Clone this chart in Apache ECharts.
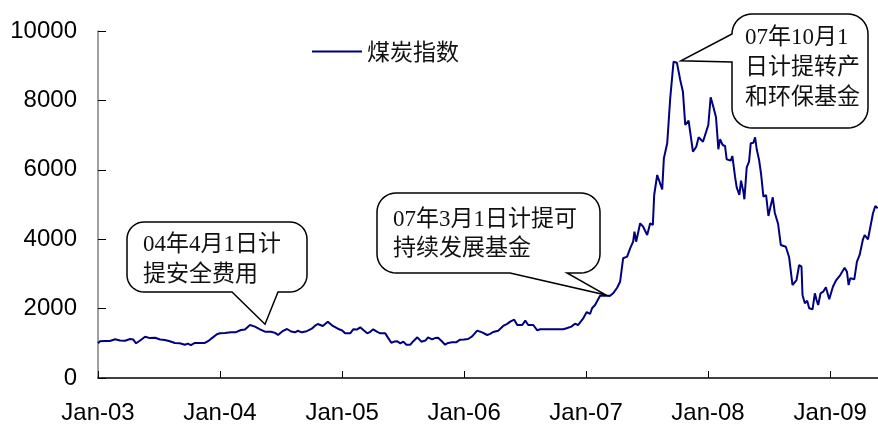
<!DOCTYPE html>
<html>
<head>
<meta charset="utf-8">
<title>煤炭指数</title>
<script src="https://cdn.jsdelivr.net/npm/echarts@6/dist/echarts.min.js"></script>
<style>
  html, body { margin: 0; padding: 0; background: #fff; }
  #main { width: 878px; height: 426px; }
</style>
</head>
<body>
<div id="main"></div>
<script>
// Weekly-ish readings of the coal sector index, Jan 2003 – May 2009
const dates = [
  '2003-01-01','2003-01-07','2003-01-22','2003-02-06','2003-02-21','2003-03-08','2003-03-23','2003-04-07','2003-04-16','2003-04-25','2003-05-07','2003-05-22','2003-06-06','2003-06-21','2003-07-06','2003-07-20','2003-08-04','2003-08-19','2003-09-03','2003-09-18','2003-09-27','2003-10-06','2003-10-18','2003-11-02','2003-11-17','2003-11-29','2003-12-11','2003-12-23',
  '2004-01-01','2004-01-16','2004-02-03','2004-02-18','2004-03-04','2004-03-16','2004-03-31','2004-04-15','2004-04-30','2004-05-15','2004-06-02','2004-06-14','2004-06-23','2004-07-08','2004-07-20','2004-08-01','2004-08-13','2004-08-21','2004-09-02','2004-09-17','2004-10-02','2004-10-11','2004-10-20','2004-11-04','2004-11-19','2004-12-04','2004-12-19',
  '2005-01-01','2005-01-10','2005-01-25','2005-02-03','2005-02-15','2005-02-24','2005-03-08','2005-03-17','2005-03-26','2005-04-04','2005-04-16','2005-04-25','2005-05-10','2005-05-19','2005-05-28','2005-06-06','2005-06-15','2005-06-24','2005-07-03','2005-07-12','2005-07-24','2005-08-02','2005-08-14','2005-08-26','2005-09-07','2005-09-15','2005-09-27','2005-10-06','2005-10-15','2005-10-27','2005-11-05','2005-11-14','2005-11-26','2005-12-08','2005-12-20',
  '2006-01-01','2006-01-13','2006-01-25','2006-02-09','2006-02-24','2006-03-11','2006-03-20','2006-03-29','2006-04-13','2006-04-28','2006-05-10','2006-05-19','2006-05-31','2006-06-09','2006-06-24','2006-07-03','2006-07-12','2006-07-27','2006-08-08','2006-08-17','2006-10-25','2006-11-06','2006-11-18','2006-11-29','2006-12-08','2006-12-23',
  '2007-01-03','2007-01-13','2007-01-19','2007-01-28','2007-02-12','2007-02-27','2007-03-14','2007-03-23','2007-04-04','2007-04-13','2007-04-22','2007-05-04','2007-05-13','2007-05-22','2007-05-26','2007-05-31','2007-06-12','2007-06-21','2007-07-03','2007-07-12','2007-07-20','2007-07-24','2007-08-02','2007-08-17','2007-08-22','2007-09-01','2007-09-10','2007-09-20','2007-09-30','2007-10-05','2007-10-10','2007-10-18','2007-10-25','2007-11-04','2007-11-17','2007-11-27','2007-12-04','2007-12-17',
  '2008-01-02','2008-01-09','2008-01-17','2008-01-25','2008-01-29','2008-02-01','2008-02-06','2008-02-14','2008-02-21','2008-02-26','2008-03-09','2008-03-14','2008-03-22','2008-03-27','2008-04-04','2008-04-09','2008-04-16','2008-04-19','2008-04-26','2008-05-03','2008-05-08','2008-05-16','2008-05-21','2008-05-26','2008-06-02','2008-06-08','2008-06-15','2008-06-23','2008-06-30','2008-07-05','2008-07-13','2008-07-19','2008-07-29','2008-08-06','2008-08-21','2008-08-31','2008-09-10','2008-09-22','2008-09-30','2008-10-07','2008-10-10','2008-10-17','2008-10-24','2008-10-30','2008-11-09','2008-11-16','2008-11-21','2008-11-26','2008-12-03','2008-12-11','2008-12-19','2008-12-29',
  '2009-01-09','2009-01-19','2009-01-31','2009-02-13','2009-02-20','2009-02-25','2009-03-02','2009-03-14','2009-03-22','2009-03-30','2009-04-09','2009-04-14','2009-04-24','2009-04-29','2009-05-09','2009-05-16','2009-05-23'
];
const coalIndex = [
  1000,1060,1066,1066,1115,1080,1075,1124,1110,1000,1080,1190,1150,1160,1110,1095,1060,1010,1000,958,990,950,1010,1010,1010,1080,1170,1260,
  1290,1300,1316,1320,1383,1400,1527,1480,1400,1335,1335,1300,1239,1360,1412,1340,1316,1360,1316,1350,1422,1500,1556,1499,1624,1500,1420,
  1370,1287,1287,1403,1400,1460,1360,1287,1330,1403,1330,1287,1287,1150,1017,1050,1056,1000,1047,960,960,1060,1172,1047,1080,1172,1115,1150,1162,1050,960,1010,1027,1027,1104,
  1110,1124,1200,1364,1316,1239,1270,1326,1364,1499,1560,1624,1681,1527,1527,1652,1527,1527,1374,1403,1403,1440,1480,1566,1527,1710,
  1899,1845,2009,2104,2370,2370,2370,2441,2600,2775,3450,3496,3738,3928,4216,3928,4458,4360,4121,4458,4409,5274,5850,5437,6331,6764,8061,9116,9087,9069,8588,8251,7291,7416,6522,6666,6937,6810,
  7291,8090,7819,7513,7003,6591,6879,6715,6686,6303,6263,6398,5802,5495,5274,5686,5369,5150,6072,6234,6764,6781,6937,6591,6283,5879,5225,5274,4669,4891,5208,4764,4438,3833,3784,3479,2680,2824,3257,3208,2392,2153,2228,2009,1980,2441,2248,2104,2441,2487,2614,2268,
  2631,2824,2968,3179,3064,2680,2873,2844,3352,3545,3997,4121,3997,3957,4746,4957,4891
];

// Axis ticks
const yearTickLabels = ['Jan-03','Jan-04','Jan-05','Jan-06','Jan-07','Jan-08','Jan-09'];
const firstYear = 2003;
const xRange = ['2003-01-01', '2009-05-24'];

// Annotated policy events
const noteTexts = [
  ['04年4月1日计', '提安全费用'],
  ['07年3月1日计提可', '持续发展基金'],
  ['07年10月1', '日计提转产', '和环保基金']
];
const noteDates = ['2004-05-15', '2007-03-02', '2007-10-12'];
const noteValues = [1550, 2390, 9140];

function toTime(s) {
  const p = s.split('-').map(Number);
  return new Date(p[0], p[1] - 1, p[2]).getTime();
}

const chart = echarts.init(document.getElementById('main'), null, { renderer: 'canvas' });
const labelFont = '"Liberation Sans", Arial, sans-serif';
const noteFont = '"Liberation Serif", "Noto Sans CJK SC", serif';

chart.setOption({
  animation: false,
  grid: { left: 98, right: 0, top: 31, bottom: 48, containLabel: false },
  legend: {
    left: 307, top: 35,
    icon: 'rect',
    itemWidth: 50, itemHeight: 2, itemGap: 10,
    data: ['煤炭指数'],
    textStyle: { fontFamily: '"Noto Sans CJK SC", sans-serif', fontSize: 23, color: '#111' }
  },
  xAxis: {
    type: 'time',
    min: toTime(xRange[0]),
    max: toTime(xRange[1]),
    splitNumber: 7,
    minInterval: 365 * 86400000,
    maxInterval: 366 * 86400000,
    axisLine: { lineStyle: { color: '#000', width: 1.5 } },
    axisTick: { inside: true, length: 7, lineStyle: { color: '#000', width: 1 } },
    splitLine: { show: false },
    axisLabel: {
      margin: 23,
      color: '#000',
      fontFamily: labelFont,
      fontSize: 24,
      showMaxLabel: false,
      hideOverlap: false,
      formatter: function (v) {
        const d = new Date(v);
        return yearTickLabels[d.getFullYear() - firstYear] || '';
      }
    }
  },
  yAxis: {
    type: 'value',
    min: 0, max: 10000, interval: 2000,
    axisLine: { show: true, lineStyle: { color: '#808080', width: 1.5 } },
    axisTick: { show: true, inside: true, length: 8, lineStyle: { color: '#000', width: 1 } },
    splitLine: { show: false },
    axisLabel: {
      margin: 21, color: '#000', fontFamily: labelFont, fontSize: 24,
      formatter: function (v) { return String(v); }
    }
  },
  series: [{
    name: '煤炭指数',
    type: 'line',
    symbol: 'none',
    data: dates.map((d, i) => [toTime(d), coalIndex[i]]),
    lineStyle: { color: '#000080', width: 2 },
    itemStyle: { color: '#000080' },
    z: 2
  }]
});

// Callout geometry: box in pixels, tail attached on one side of the box
const noteBoxes = [
  { x: 127, y: 222, w: 180, h: 70, r: 17, side: 'bottom', a: 232, b: 278, tx: 143, ty: 245, lh: 30 },
  { x: 377, y: 193, w: 223, h: 80, r: 19, side: 'bottom', a: 510, b: 567, tx: 393, ty: 220, lh: 29 },
  { x: 732, y: 14,  w: 136, h: 114, r: 20, side: 'left', a: 34, b: 62, tx: 745, ty: 38, lh: 30 }
];

function arcPts(cx, cy, r, a0, a1, out) {
  const n = 10;
  for (let k = 0; k <= n; k++) {
    const t = (a0 + (a1 - a0) * k / n) * Math.PI / 180;
    out.push([cx + r * Math.cos(t), cy + r * Math.sin(t)]);
  }
}

function outline(bx, tip) {
  const { x, y, w, h, r } = bx;
  const pts = [];
  pts.push([x + r, y]);
  arcPts(x + w - r, y + r, r, -90, 0, pts);
  arcPts(x + w - r, y + h - r, r, 0, 90, pts);
  if (bx.side === 'bottom') {
    pts.push([bx.b, y + h], tip, [bx.a, y + h]);
  }
  arcPts(x + r, y + h - r, r, 90, 180, pts);
  if (bx.side === 'left') {
    pts.push([x, bx.b], tip, [x, bx.a]);
  }
  arcPts(x + r, y + r, r, 180, 270, pts);
  return pts;
}

const graphics = [];
noteBoxes.forEach((bx, i) => {
  const tip = chart.convertToPixel({ xAxisIndex: 0, yAxisIndex: 0 }, [toTime(noteDates[i]), noteValues[i]]);
  graphics.push({
    type: 'polygon',
    shape: { points: outline(bx, tip) },
    style: { fill: '#fff', stroke: '#000', lineWidth: 1.5 },
    z: 10
  });
  noteTexts[i].forEach((line, j) => {
    graphics.push({
      type: 'text',
      x: bx.tx, y: bx.ty + j * bx.lh,
      style: {
        text: line, fill: '#111',
        font: '23px ' + noteFont,
        align: 'left', verticalAlign: 'middle'
      },
      z: 11
    });
  });
});
chart.setOption({ graphic: graphics });
</script>
</body>
</html>
